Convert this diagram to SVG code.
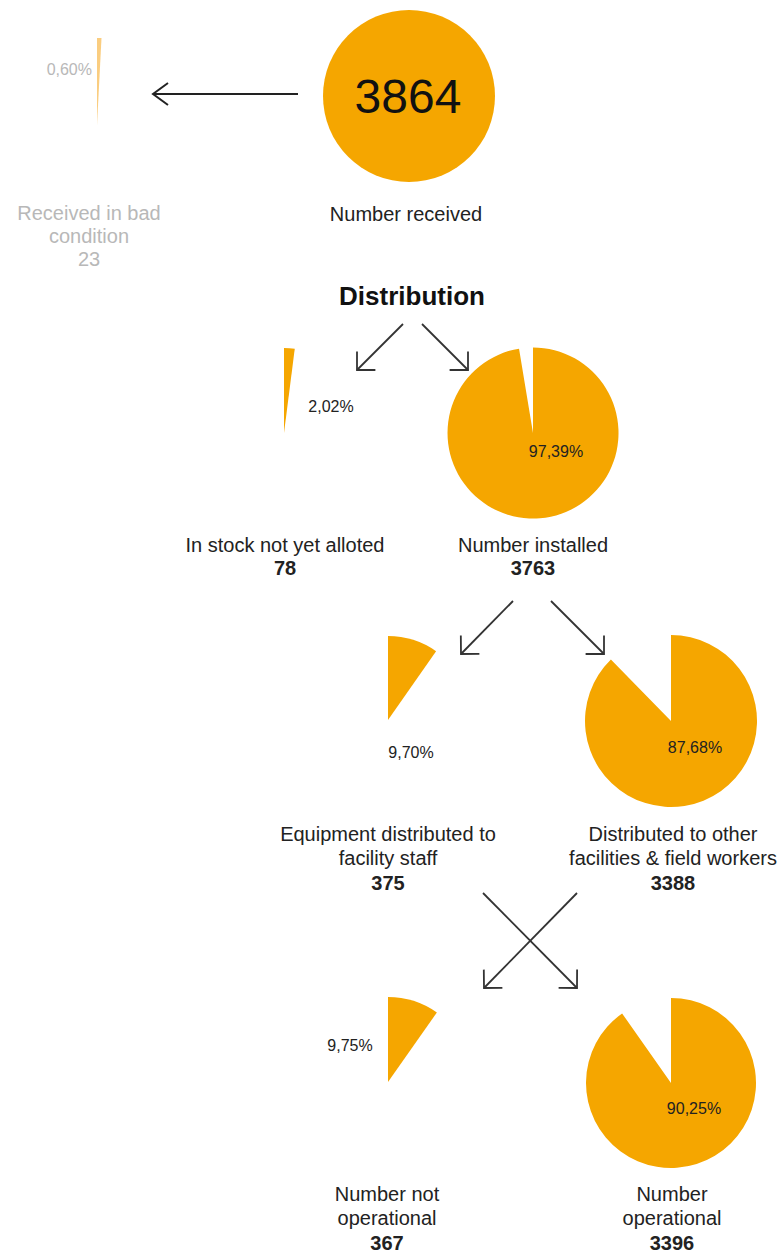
<svg xmlns="http://www.w3.org/2000/svg" width="779" height="1255" viewBox="0 0 779 1255">
<style>
text{font-family:"Liberation Sans",Arial,sans-serif;fill:#222;text-anchor:middle}
.lbl{font-size:20px}
.num{font-size:20px;font-weight:bold}
.pct{font-size:16px}
.faint{fill:#b8b8b8}
.pie{fill:#f5a600}
.conn{stroke:#333;stroke-width:1.8;fill:none}
</style>
<defs>
<marker id="chev" markerUnits="userSpaceOnUse" orient="auto" refX="0" refY="0" markerWidth="30" markerHeight="30" overflow="visible">
<path d="M-13,-13 L0,0 L-13,13" fill="none" stroke="#333" stroke-width="1.8"/>
</marker>
<marker id="chevTop" markerUnits="userSpaceOnUse" orient="auto" refX="0" refY="0" markerWidth="30" markerHeight="30" overflow="visible">
<path d="M-15,-11 L0,0 L-15,11" fill="none" stroke="#222" stroke-width="2"/>
</marker>
</defs>
<rect width="779" height="1255" fill="#fff"/>

<g id="connectors">
<line x1="298" y1="94" x2="153" y2="94" stroke="#222" stroke-width="2" marker-end="url(#chevTop)"/>
<line class="conn" x1="403" y1="324" x2="357" y2="370" marker-end="url(#chev)"/>
<line class="conn" x1="422" y1="324" x2="468" y2="370" marker-end="url(#chev)"/>
<line class="conn" x1="513" y1="601" x2="461" y2="654" marker-end="url(#chev)"/>
<line class="conn" x1="551" y1="601" x2="604" y2="654" marker-end="url(#chev)"/>
<line class="conn" x1="483" y1="893" x2="577" y2="988" marker-end="url(#chev)"/>
<line class="conn" x1="577" y1="893" x2="484" y2="988" marker-end="url(#chev)"/>
</g>

<g id="received">
<circle class="pie" cx="409" cy="96" r="86"/>
<text x="408" y="113" style="font-size:48px;fill:#111">3864</text>
<text class="lbl" x="406" y="221">Number received</text>
</g>

<g id="bad-condition">
<path d="M97,125 L97,38 A87,87 0 0 1 101.5,38.1 Z" fill="#f9c060" opacity="0.8"/>
<text class="pct faint" x="92" y="75" style="text-anchor:end">0,60%</text>
<text class="lbl faint" x="89" y="220">Received in bad</text>
<text class="lbl faint" x="89" y="243">condition</text>
<text class="lbl faint" x="89" y="266">23</text>
</g>

<g id="distribution">
<text x="412" y="305" style="font-size:26px;font-weight:bold;fill:#111">Distribution</text>
</g>

<g id="in-stock">
<path class="pie" d="M284,433 L284,348 A85,85 0 0 1 294.76,348.68 Z"/>
<text class="pct" x="331" y="412">2,02%</text>
<text class="lbl" x="285" y="552">In stock not yet alloted</text>
<text class="num" x="285" y="575">78</text>
</g>

<g id="installed">
<path class="pie" d="M533,433 L533,347.5 A85.5,85.5 0 1 1 519.04,348.65 Z"/>
<text class="pct" x="556" y="457">97,39%</text>
<text class="lbl" x="533" y="552">Number installed</text>
<text class="num" x="533" y="575">3763</text>
</g>

<g id="facility-staff">
<path class="pie" d="M388,720 L388,636 A84,84 0 0 1 436.09,651.13 Z"/>
<text class="pct" x="411" y="758">9,70%</text>
<text class="lbl" x="388" y="841">Equipment distributed to</text>
<text class="lbl" x="388" y="865">facility staff</text>
<text class="num" x="388" y="890">375</text>
</g>

<g id="other-facilities">
<path class="pie" d="M671,721 L671,635 A86,86 0 1 1 610.89,659.5 Z"/>
<text class="pct" x="695" y="753">87,68%</text>
<text class="lbl" x="673" y="841">Distributed to other</text>
<text class="lbl" x="673" y="865">facilities &amp; field workers</text>
<text class="num" x="673" y="890">3388</text>
</g>

<g id="not-operational">
<path class="pie" d="M388,1082 L388,997 A85,85 0 0 1 436.88,1012.46 Z"/>
<text class="pct" x="350" y="1051">9,75%</text>
<text class="lbl" x="387" y="1201">Number not</text>
<text class="lbl" x="387" y="1225">operational</text>
<text class="num" x="387" y="1250">367</text>
</g>

<g id="operational">
<path class="pie" d="M671,1083 L671,998 A85,85 0 1 1 622.12,1013.46 Z"/>
<text class="pct" x="694" y="1114">90,25%</text>
<text class="lbl" x="672" y="1201">Number</text>
<text class="lbl" x="672" y="1225">operational</text>
<text class="num" x="672" y="1250">3396</text>
</g>
</svg>
